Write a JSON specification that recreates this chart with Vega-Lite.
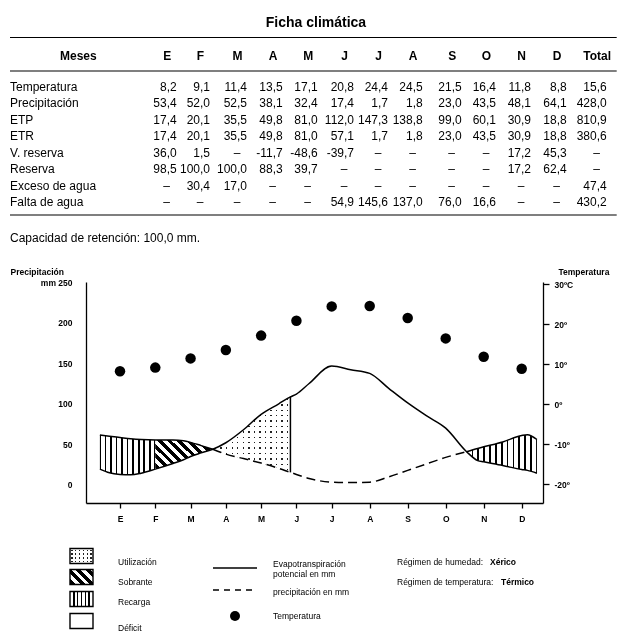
{
 "$schema": "https://vega.github.io/schema/vega-lite/v6.json",
 "width": 457,
 "height": 221,
 "autosize": {"type": "none"},
 "padding": {"left": 86, "top": 282, "right": 74, "bottom": 135},
 "background": "white",
 "config": {"view": {"stroke": null}, "font": "Liberation Sans", "text": {"font": "Liberation Sans", "color": "black"}},
 "datasets": {
  "curva": [
   {"m":0.43,"etp":19.5,"pre":61.5},{"m":0.7,"etp":15,"pre":60},{"m":1,"etp":13,"pre":58.5},{"m":1.3,"etp":12.5,"pre":57},
   {"m":1.6,"etp":14.5,"pre":56},{"m":2,"etp":19.5,"pre":55.5},{"m":2.5,"etp":26.5,"pre":55.5},{"m":2.8,"etp":31,"pre":54.5},
   {"m":3,"etp":35,"pre":52.5},{"m":3.3,"etp":39.5,"pre":48.5},{"m":3.63,"etp":44,"pre":44},{"m":4,"etp":52,"pre":38},
   {"m":4.5,"etp":68,"pre":32.5},{"m":5,"etp":87,"pre":27},{"m":5.5,"etp":100,"pre":20.5},{"m":5.83,"etp":108.5,"pre":15.5},
   {"m":6,"etp":112,"pre":13},{"m":6.36,"etp":125,"pre":8},{"m":7,"etp":146.5,"pre":3.5},{"m":7.5,"etp":142,"pre":3},
   {"m":8,"etp":137.5,"pre":3.5},{"m":8.5,"etp":119,"pre":10},{"m":9,"etp":101,"pre":18},{"m":9.5,"etp":85,"pre":26},
   {"m":10,"etp":70,"pre":34},{"m":10.55,"etp":41,"pre":41},{"m":10.84,"etp":30,"pre":45},{"m":11,"etp":28.5,"pre":47},
   {"m":11.5,"etp":24,"pre":53},{"m":12,"etp":19,"pre":61},{"m":12.15,"etp":18,"pre":62},{"m":12.4,"etp":14.5,"pre":56}
  ],
  "temp": [
   {"m":1,"t":8.2},{"m":2,"t":9.1},{"m":3,"t":11.4},{"m":4,"t":13.5},{"m":5,"t":17.1},{"m":6,"t":20.8},
   {"m":7,"t":24.4},{"m":8,"t":24.5},{"m":9,"t":21.5},{"m":10,"t":16.4},{"m":11,"t":11.8},{"m":12,"t":8.8}
  ],
  "tabla": [
   {"r":2,"f":"Meses","E":"E","F":"F","Mz":"M","Ab":"A","My":"M","Jn":"J","Jl":"J","Ag":"A","S":"S","O":"O","N":"N","D":"D","Total":"Total"},
   {"r":4,"f":"Temperatura","E":"8,2","F":"9,1","Mz":"11,4","Ab":"13,5","My":"17,1","Jn":"20,8","Jl":"24,4","Ag":"24,5","S":"21,5","O":"16,4","N":"11,8","D":"8,8","Total":"15,6"},
   {"r":5,"f":"Precipitación","E":"53,4","F":"52,0","Mz":"52,5","Ab":"38,1","My":"32,4","Jn":"17,4","Jl":"1,7","Ag":"1,8","S":"23,0","O":"43,5","N":"48,1","D":"64,1","Total":"428,0"},
   {"r":6,"f":"ETP","E":"17,4","F":"20,1","Mz":"35,5","Ab":"49,8","My":"81,0","Jn":"112,0","Jl":"147,3","Ag":"138,8","S":"99,0","O":"60,1","N":"30,9","D":"18,8","Total":"810,9"},
   {"r":7,"f":"ETR","E":"17,4","F":"20,1","Mz":"35,5","Ab":"49,8","My":"81,0","Jn":"57,1","Jl":"1,7","Ag":"1,8","S":"23,0","O":"43,5","N":"30,9","D":"18,8","Total":"380,6"},
   {"r":8,"f":"V. reserva","E":"36,0","F":"1,5","Mz":"–","Ab":"-11,7","My":"-48,6","Jn":"-39,7","Jl":"–","Ag":"–","S":"–","O":"–","N":"17,2","D":"45,3","Total":"–"},
   {"r":9,"f":"Reserva","E":"98,5","F":"100,0","Mz":"100,0","Ab":"88,3","My":"39,7","Jn":"–","Jl":"–","Ag":"–","S":"–","O":"–","N":"17,2","D":"62,4","Total":"–"},
   {"r":10,"f":"Exceso de agua","E":"–","F":"30,4","Mz":"17,0","Ab":"–","My":"–","Jn":"–","Jl":"–","Ag":"–","S":"–","O":"–","N":"–","D":"–","Total":"47,4"},
   {"r":11,"f":"Falta de agua","E":"–","F":"–","Mz":"–","Ab":"–","My":"–","Jn":"54,9","Jl":"145,6","Ag":"137,0","S":"76,0","O":"16,6","N":"–","D":"–","Total":"430,2"}
  ],
  "cols": [
   {"k":"f","c":0},{"k":"E","c":1},{"k":"F","c":2},{"k":"Mz","c":3},{"k":"Ab","c":4},{"k":"My","c":5},{"k":"Jn","c":6},
   {"k":"Jl","c":7},{"k":"Ag","c":8},{"k":"S","c":9},{"k":"O","c":10},{"k":"N","c":11},{"k":"D","c":12},{"k":"Total","c":13}
  ]
 },
 "resolve": {"scale": {"x": "independent", "y": "independent"}},
 "layer": [
  {
   "data": {"name": "curva"},
   "encoding": {
    "x": {"field": "m", "type": "quantitative",
     "scale": {"domain": [0.036, 1, 7, 12, 12.56], "range": [0, 34, 245.7, 435.7, 457], "nice": false, "zero": false},
     "axis": {"values": [1,2,3,4,5,6,7,8,9,10,11,12], "labelExpr": "['','E','F','M','A','M','J','J','A','S','O','N','D'][datum.value]", "grid": false, "tickSize": 5, "tickColor": "black", "tickWidth": 1.3, "domainColor": "black", "domainWidth": 1.3, "labelFontSize": 8.5, "labelFontWeight": "bold", "labelColor": "black", "labelFont": "Liberation Sans", "labelPadding": 6, "labelFlush": false, "title": null}}
   },
   "layer": [
    {"transform": [{"filter": "datum.m <= 2"}],
     "mark": {"type": "area", "interpolate": "monotone", "fill": {"gradient": "linear", "x1": 0, "y1": 0, "x2": 1, "y2": 0, "stops": [
      {"offset":0,"color":"#000"},{"offset":0.016,"color":"#000"},{"offset":0.016,"color":"#fff"},{"offset":0.084,"color":"#fff"},{"offset":0.084,"color":"#000"},{"offset":0.116,"color":"#000"},{"offset":0.116,"color":"#fff"},{"offset":0.184,"color":"#fff"},{"offset":0.184,"color":"#000"},{"offset":0.216,"color":"#000"},{"offset":0.216,"color":"#fff"},{"offset":0.284,"color":"#fff"},{"offset":0.284,"color":"#000"},{"offset":0.316,"color":"#000"},{"offset":0.316,"color":"#fff"},{"offset":0.384,"color":"#fff"},{"offset":0.384,"color":"#000"},{"offset":0.416,"color":"#000"},{"offset":0.416,"color":"#fff"},{"offset":0.484,"color":"#fff"},{"offset":0.484,"color":"#000"},{"offset":0.516,"color":"#000"},{"offset":0.516,"color":"#fff"},{"offset":0.584,"color":"#fff"},{"offset":0.584,"color":"#000"},{"offset":0.616,"color":"#000"},{"offset":0.616,"color":"#fff"},{"offset":0.684,"color":"#fff"},{"offset":0.684,"color":"#000"},{"offset":0.716,"color":"#000"},{"offset":0.716,"color":"#fff"},{"offset":0.784,"color":"#fff"},{"offset":0.784,"color":"#000"},{"offset":0.816,"color":"#000"},{"offset":0.816,"color":"#fff"},{"offset":0.884,"color":"#fff"},{"offset":0.884,"color":"#000"},{"offset":0.916,"color":"#000"},{"offset":0.916,"color":"#fff"},{"offset":0.984,"color":"#fff"},{"offset":0.984,"color":"#000"},{"offset":1,"color":"#000"}]}},
     "encoding": {
      "y": {"field": "pre", "type": "quantitative", "scale": {"domain": [-22.2, 250], "nice": false, "zero": false},
       "axis": {"orient": "left", "values": [0,50,100,150,200,250], "labelExpr": "datum.value == 250 ? 'mm   250' : datum.label", "grid": false, "ticks": false, "domainColor": "black", "domainWidth": 1.3, "labelFontSize": 8.5, "labelFontWeight": "bold", "labelColor": "black", "labelFont": "Liberation Sans", "labelPadding": 14, "title": "Precipitación", "titleAngle": 0, "titleAlign": "left", "titleBaseline": "middle", "titleX": -76, "titleY": -11, "titleFontSize": 8.5, "titleFontWeight": "bold", "titleColor": "black", "titleFont": "Liberation Sans"}},
      "y2": {"field": "etp"}
     }},
    {"transform": [{"filter": "datum.m >= 2 && datum.m <= 3.63"}],
     "mark": {"type": "area", "interpolate": "monotone", "fill": {"gradient": "linear", "x1": 0, "y1": 1, "x2": 1.1975, "y2": 0.382, "stops": [
      {"offset":0,"color":"#fff"},{"offset":0.02,"color":"#fff"},{"offset":0.02,"color":"#000"},{"offset":0.075,"color":"#000"},{"offset":0.075,"color":"#fff"},{"offset":0.131,"color":"#fff"},{"offset":0.131,"color":"#000"},{"offset":0.186,"color":"#000"},{"offset":0.186,"color":"#fff"},{"offset":0.242,"color":"#fff"},{"offset":0.242,"color":"#000"},{"offset":0.297,"color":"#000"},{"offset":0.297,"color":"#fff"},{"offset":0.353,"color":"#fff"},{"offset":0.353,"color":"#000"},{"offset":0.408,"color":"#000"},{"offset":0.408,"color":"#fff"},{"offset":0.464,"color":"#fff"},{"offset":0.464,"color":"#000"},{"offset":0.519,"color":"#000"},{"offset":0.519,"color":"#fff"},{"offset":0.575,"color":"#fff"},{"offset":0.575,"color":"#000"},{"offset":0.63,"color":"#000"},{"offset":0.63,"color":"#fff"},{"offset":0.686,"color":"#fff"},{"offset":0.686,"color":"#000"},{"offset":0.741,"color":"#000"},{"offset":0.741,"color":"#fff"},{"offset":0.797,"color":"#fff"},{"offset":0.797,"color":"#000"},{"offset":0.852,"color":"#000"},{"offset":0.852,"color":"#fff"},{"offset":0.908,"color":"#fff"},{"offset":0.908,"color":"#000"},{"offset":0.963,"color":"#000"},{"offset":0.963,"color":"#fff"},{"offset":1,"color":"#fff"}]}},
     "encoding": {"y": {"field": "pre", "type": "quantitative"}, "y2": {"field": "etp"}}},
    {"transform": [{"filter": "datum.m >= 3.63 && datum.m <= 5.83"}],
     "mark": {"type": "area", "interpolate": "monotone", "fill": {"gradient": "linear", "x1": 0, "y1": 0, "x2": 1, "y2": 0, "stops": [
      {"offset":0,"color":"#fff"},{"offset":0.027,"color":"#fff"},{"offset":0.027,"color":"#222"},{"offset":0.045,"color":"#222"},{"offset":0.045,"color":"#fff"},{"offset":0.098,"color":"#fff"},{"offset":0.098,"color":"#222"},{"offset":0.116,"color":"#222"},{"offset":0.116,"color":"#fff"},{"offset":0.17,"color":"#fff"},{"offset":0.17,"color":"#222"},{"offset":0.188,"color":"#222"},{"offset":0.188,"color":"#fff"},{"offset":0.241,"color":"#fff"},{"offset":0.241,"color":"#222"},{"offset":0.259,"color":"#222"},{"offset":0.259,"color":"#fff"},{"offset":0.312,"color":"#fff"},{"offset":0.312,"color":"#222"},{"offset":0.33,"color":"#222"},{"offset":0.33,"color":"#fff"},{"offset":0.384,"color":"#fff"},{"offset":0.384,"color":"#222"},{"offset":0.402,"color":"#222"},{"offset":0.402,"color":"#fff"},{"offset":0.455,"color":"#fff"},{"offset":0.455,"color":"#222"},{"offset":0.473,"color":"#222"},{"offset":0.473,"color":"#fff"},{"offset":0.527,"color":"#fff"},{"offset":0.527,"color":"#222"},{"offset":0.545,"color":"#222"},{"offset":0.545,"color":"#fff"},{"offset":0.598,"color":"#fff"},{"offset":0.598,"color":"#222"},{"offset":0.616,"color":"#222"},{"offset":0.616,"color":"#fff"},{"offset":0.67,"color":"#fff"},{"offset":0.67,"color":"#222"},{"offset":0.688,"color":"#222"},{"offset":0.688,"color":"#fff"},{"offset":0.741,"color":"#fff"},{"offset":0.741,"color":"#222"},{"offset":0.759,"color":"#222"},{"offset":0.759,"color":"#fff"},{"offset":0.812,"color":"#fff"},{"offset":0.812,"color":"#222"},{"offset":0.83,"color":"#222"},{"offset":0.83,"color":"#fff"},{"offset":0.884,"color":"#fff"},{"offset":0.884,"color":"#222"},{"offset":0.902,"color":"#222"},{"offset":0.902,"color":"#fff"},{"offset":0.955,"color":"#fff"},{"offset":0.955,"color":"#222"},{"offset":0.973,"color":"#222"},{"offset":0.973,"color":"#fff"},{"offset":1,"color":"#fff"}]}},
     "encoding": {"y": {"field": "pre", "type": "quantitative"}, "y2": {"field": "etp"}}},
    {"transform": [{"filter": "datum.m >= 3.63 && datum.m <= 5.83"}],
     "mark": {"type": "area", "interpolate": "monotone", "blend": "lighten", "fill": {"gradient": "linear", "x1": 0, "y1": 0, "x2": 0, "y2": 1, "stops": [
      {"offset":0,"color":"#fff"},{"offset":0.027,"color":"#fff"},{"offset":0.027,"color":"#222"},{"offset":0.045,"color":"#222"},{"offset":0.045,"color":"#fff"},{"offset":0.098,"color":"#fff"},{"offset":0.098,"color":"#222"},{"offset":0.116,"color":"#222"},{"offset":0.116,"color":"#fff"},{"offset":0.17,"color":"#fff"},{"offset":0.17,"color":"#222"},{"offset":0.188,"color":"#222"},{"offset":0.188,"color":"#fff"},{"offset":0.241,"color":"#fff"},{"offset":0.241,"color":"#222"},{"offset":0.259,"color":"#222"},{"offset":0.259,"color":"#fff"},{"offset":0.312,"color":"#fff"},{"offset":0.312,"color":"#222"},{"offset":0.33,"color":"#222"},{"offset":0.33,"color":"#fff"},{"offset":0.384,"color":"#fff"},{"offset":0.384,"color":"#222"},{"offset":0.402,"color":"#222"},{"offset":0.402,"color":"#fff"},{"offset":0.455,"color":"#fff"},{"offset":0.455,"color":"#222"},{"offset":0.473,"color":"#222"},{"offset":0.473,"color":"#fff"},{"offset":0.527,"color":"#fff"},{"offset":0.527,"color":"#222"},{"offset":0.545,"color":"#222"},{"offset":0.545,"color":"#fff"},{"offset":0.598,"color":"#fff"},{"offset":0.598,"color":"#222"},{"offset":0.616,"color":"#222"},{"offset":0.616,"color":"#fff"},{"offset":0.67,"color":"#fff"},{"offset":0.67,"color":"#222"},{"offset":0.688,"color":"#222"},{"offset":0.688,"color":"#fff"},{"offset":0.741,"color":"#fff"},{"offset":0.741,"color":"#222"},{"offset":0.759,"color":"#222"},{"offset":0.759,"color":"#fff"},{"offset":0.812,"color":"#fff"},{"offset":0.812,"color":"#222"},{"offset":0.83,"color":"#222"},{"offset":0.83,"color":"#fff"},{"offset":0.884,"color":"#fff"},{"offset":0.884,"color":"#222"},{"offset":0.902,"color":"#222"},{"offset":0.902,"color":"#fff"},{"offset":0.955,"color":"#fff"},{"offset":0.955,"color":"#222"},{"offset":0.973,"color":"#222"},{"offset":0.973,"color":"#fff"},{"offset":1,"color":"#fff"}]}},
     "encoding": {"y": {"field": "pre", "type": "quantitative"}, "y2": {"field": "etp"}}},
    {"transform": [{"filter": "datum.m >= 10.55"}],
     "mark": {"type": "area", "interpolate": "monotone", "fill": {"gradient": "linear", "x1": 0, "y1": 0, "x2": 1, "y2": 0, "stops": [
      {"offset":0,"color":"#000"},{"offset":0.012,"color":"#000"},{"offset":0.012,"color":"#fff"},{"offset":0.071,"color":"#fff"},{"offset":0.071,"color":"#000"},{"offset":0.095,"color":"#000"},{"offset":0.095,"color":"#fff"},{"offset":0.155,"color":"#fff"},{"offset":0.155,"color":"#000"},{"offset":0.179,"color":"#000"},{"offset":0.179,"color":"#fff"},{"offset":0.238,"color":"#fff"},{"offset":0.238,"color":"#000"},{"offset":0.262,"color":"#000"},{"offset":0.262,"color":"#fff"},{"offset":0.321,"color":"#fff"},{"offset":0.321,"color":"#000"},{"offset":0.345,"color":"#000"},{"offset":0.345,"color":"#fff"},{"offset":0.405,"color":"#fff"},{"offset":0.405,"color":"#000"},{"offset":0.429,"color":"#000"},{"offset":0.429,"color":"#fff"},{"offset":0.488,"color":"#fff"},{"offset":0.488,"color":"#000"},{"offset":0.512,"color":"#000"},{"offset":0.512,"color":"#fff"},{"offset":0.571,"color":"#fff"},{"offset":0.571,"color":"#000"},{"offset":0.595,"color":"#000"},{"offset":0.595,"color":"#fff"},{"offset":0.655,"color":"#fff"},{"offset":0.655,"color":"#000"},{"offset":0.679,"color":"#000"},{"offset":0.679,"color":"#fff"},{"offset":0.738,"color":"#fff"},{"offset":0.738,"color":"#000"},{"offset":0.762,"color":"#000"},{"offset":0.762,"color":"#fff"},{"offset":0.821,"color":"#fff"},{"offset":0.821,"color":"#000"},{"offset":0.845,"color":"#000"},{"offset":0.845,"color":"#fff"},{"offset":0.905,"color":"#fff"},{"offset":0.905,"color":"#000"},{"offset":0.929,"color":"#000"},{"offset":0.929,"color":"#fff"},{"offset":0.988,"color":"#fff"},{"offset":0.988,"color":"#000"},{"offset":1,"color":"#000"}]}},
     "encoding": {"y": {"field": "pre", "type": "quantitative"}, "y2": {"field": "etp"}}},
    {"mark": {"type": "line", "interpolate": "monotone", "color": "black", "strokeWidth": 1.5},
     "encoding": {"y": {"field": "etp", "type": "quantitative"}}},
    {"transform": [{"filter": "datum.m <= 3.63"}],
     "mark": {"type": "line", "interpolate": "monotone", "color": "black", "strokeWidth": 1.5},
     "encoding": {"y": {"field": "pre", "type": "quantitative"}}},
    {"transform": [{"filter": "datum.m >= 10.55"}],
     "mark": {"type": "line", "interpolate": "monotone", "color": "black", "strokeWidth": 1.5},
     "encoding": {"y": {"field": "pre", "type": "quantitative"}}},
    {"transform": [{"filter": "datum.m >= 3.63 && datum.m <= 10.55"}],
     "mark": {"type": "line", "interpolate": "monotone", "color": "black", "strokeWidth": 1.5, "strokeDash": [9, 5]},
     "encoding": {"y": {"field": "pre", "type": "quantitative"}}},
    {"transform": [{"filter": "datum.m == 5.83"}],
     "mark": {"type": "rule", "color": "black", "strokeWidth": 1.5},
     "encoding": {"y": {"field": "pre", "type": "quantitative"}, "y2": {"field": "etp"}}}
   ]
  },
  {
   "data": {"name": "temp"},
   "mark": {"type": "circle", "size": 110, "color": "black", "opacity": 1},
   "encoding": {
    "x": {"field": "m", "type": "quantitative", "scale": {"domain": [0.036, 1, 7, 12, 12.56], "range": [0, 34, 245.7, 435.7, 457], "nice": false, "zero": false}, "axis": null},
    "y": {"field": "t", "type": "quantitative", "scale": {"domain": [-24.75, 30.5], "nice": false, "zero": false},
     "axis": {"orient": "right", "values": [-20,-10,0,10,20,30], "labelExpr": "datum.value == 30 ? '30ºC' : datum.value + 'º'", "grid": false, "tickSize": 6, "tickColor": "black", "tickWidth": 1.3, "domainColor": "black", "domainWidth": 1.3, "labelFontSize": 8.5, "labelFontWeight": "bold", "labelColor": "black", "labelFont": "Liberation Sans", "labelPadding": 5, "title": "Temperatura", "titleAngle": 0, "titleAlign": "left", "titleBaseline": "middle", "titleX": 15, "titleY": -11, "titleFontSize": 8.5, "titleFontWeight": "bold", "titleColor": "black", "titleFont": "Liberation Sans"}}
   }
  },
  {
   "encoding": {
    "x": {"field": "c", "type": "quantitative", "scale": {"domain": [0,1,2,3,4,5,6,7,8,9,10,11,12,13], "range": [-76,90.7,124,161,196.7,231.7,268,302,336.7,375.7,410,445,480.7,520.7], "nice": false, "zero": false}, "axis": null},
    "y": {"field": "r", "type": "quantitative", "scale": {"domain": [0,1,2,3,4,11,12,13], "range": [-259,-244.5,-226,-211,-195,-80,-67,-44], "nice": false, "zero": false}, "axis": null}
   },
   "layer": [
    {"data": {"name": "tabla"},
     "transform": [{"fold": ["f","E","F","Mz","Ab","My","Jn","Jl","Ag","S","O","N","D","Total"], "as": ["k","v"]},
      {"lookup": "k", "from": {"data": {"name": "cols"}, "key": "k", "fields": ["c"]}}],
     "layer": [
      {"transform": [{"filter": "datum.c == 0 && datum.r != 2"}], "mark": {"type": "text", "align": "left", "fontSize": 12}, "encoding": {"text": {"field": "v"}}},
      {"transform": [{"filter": "datum.c > 0 && datum.r != 2 && datum.v != '–'"}], "mark": {"type": "text", "align": "right", "fontSize": 12}, "encoding": {"text": {"field": "v"}}},
      {"transform": [{"filter": "datum.c > 0 && datum.r != 2 && datum.v == '–'"}], "mark": {"type": "text", "align": "center", "dx": -10, "fontSize": 12}, "encoding": {"text": {"field": "v"}}},
      {"transform": [{"filter": "datum.c > 0 && datum.r == 2"}], "mark": {"type": "text", "align": "center", "dx": -9.5, "fontSize": 12, "fontWeight": "bold"}, "encoding": {"text": {"field": "v"}}},
      {"transform": [{"filter": "datum.c == 0 && datum.r == 2"}], "mark": {"type": "text", "align": "left", "dx": 50, "fontSize": 12, "fontWeight": "bold"}, "encoding": {"text": {"field": "v"}}}
     ]},
    {"data": {"values": [{"r": 1, "c": 0, "c2": 13.25}, {"r": 3, "c": 0, "c2": 13.25}, {"r": 12, "c": 0, "c2": 13.25}]},
     "mark": {"type": "rule", "color": "black", "strokeWidth": 1.2},
     "encoding": {"x2": {"field": "c2"}}},
    {"data": {"values": [{"r": 0, "c": 4.95, "v": "Ficha climática"}]},
     "mark": {"type": "text", "align": "center", "fontSize": 14, "fontWeight": "bold"},
     "encoding": {"text": {"field": "v"}}},
    {"data": {"values": [{"r": 13, "c": 0, "v": "Capacidad de retención: 100,0 mm."}]},
     "mark": {"type": "text", "align": "left", "fontSize": 12},
     "encoding": {"text": {"field": "v"}}}
   ]
  },
  {
   "encoding": {
    "x": {"field": "c", "type": "quantitative", "scale": {"domain": [0,1,2,3,4,5,6,7,8], "range": [-4.5,32,127,149,171,187,311,404,415], "nice": false, "zero": false}, "axis": null},
    "y": {"field": "r", "type": "quantitative", "scale": {"domain": [0,1,2,3,4,5,6,7,8,9,10,11,12,13], "range": [274,280,282,286,292,295,300,308,310,317,320,334,339,346], "nice": false, "zero": false}, "axis": null}
   },
   "layer": [
    {"data": {"values": [{"c": 0, "r": 9}]},
     "mark": {"type": "point", "shape": "M-1,-0.652L1,-0.652L1,0.652L-1,0.652Z", "size": 529, "filled": true, "opacity": 1, "strokeWidth": 0,
      "fill": {"gradient": "linear", "x1": 0, "y1": 0, "x2": 1, "y2": 0, "stops": [{"offset":0,"color":"#fff"},{"offset":0.137,"color":"#fff"},{"offset":0.137,"color":"#000"},{"offset":0.197,"color":"#000"},{"offset":0.197,"color":"#fff"},{"offset":0.303,"color":"#fff"},{"offset":0.303,"color":"#000"},{"offset":0.363,"color":"#000"},{"offset":0.363,"color":"#fff"},{"offset":0.47,"color":"#fff"},{"offset":0.47,"color":"#000"},{"offset":0.53,"color":"#000"},{"offset":0.53,"color":"#fff"},{"offset":0.637,"color":"#fff"},{"offset":0.637,"color":"#000"},{"offset":0.697,"color":"#000"},{"offset":0.697,"color":"#fff"},{"offset":0.803,"color":"#fff"},{"offset":0.803,"color":"#000"},{"offset":0.863,"color":"#000"},{"offset":0.863,"color":"#fff"},{"offset":1,"color":"#fff"}]}}},
    {"data": {"values": [{"c": 0, "r": 5}]},
     "mark": {"type": "point", "shape": "M-1,-0.652L1,-0.652L1,0.652L-1,0.652Z", "size": 529, "filled": true, "opacity": 1, "strokeWidth": 0,
      "fill": {"gradient": "linear", "x1": 0, "y1": 1, "x2": 1.159, "y2": 0.244, "stops": [{"offset":0,"color":"#fff"},{"offset":0.03,"color":"#fff"},{"offset":0.03,"color":"#000"},{"offset":0.16,"color":"#000"},{"offset":0.16,"color":"#fff"},{"offset":0.28,"color":"#fff"},{"offset":0.28,"color":"#000"},{"offset":0.41,"color":"#000"},{"offset":0.41,"color":"#fff"},{"offset":0.53,"color":"#fff"},{"offset":0.53,"color":"#000"},{"offset":0.66,"color":"#000"},{"offset":0.66,"color":"#fff"},{"offset":0.78,"color":"#fff"},{"offset":0.78,"color":"#000"},{"offset":0.91,"color":"#000"},{"offset":0.91,"color":"#fff"},{"offset":1,"color":"#fff"}]}}},
    {"data": {"values": [{"c": 0, "r": 0}]},
     "mark": {"type": "point", "shape": "M-1,-0.652L1,-0.652L1,0.652L-1,0.652Z", "size": 529, "filled": true, "opacity": 1, "strokeWidth": 0,
      "fill": {"gradient": "linear", "x1": 0, "y1": 0, "x2": 1, "y2": 0, "stops": [{"offset":0,"color":"#fff"},{"offset":0.053,"color":"#fff"},{"offset":0.053,"color":"#222"},{"offset":0.113,"color":"#222"},{"offset":0.113,"color":"#fff"},{"offset":0.22,"color":"#fff"},{"offset":0.22,"color":"#222"},{"offset":0.28,"color":"#222"},{"offset":0.28,"color":"#fff"},{"offset":0.387,"color":"#fff"},{"offset":0.387,"color":"#222"},{"offset":0.447,"color":"#222"},{"offset":0.447,"color":"#fff"},{"offset":0.553,"color":"#fff"},{"offset":0.553,"color":"#222"},{"offset":0.613,"color":"#222"},{"offset":0.613,"color":"#fff"},{"offset":0.72,"color":"#fff"},{"offset":0.72,"color":"#222"},{"offset":0.78,"color":"#222"},{"offset":0.78,"color":"#fff"},{"offset":0.887,"color":"#fff"},{"offset":0.887,"color":"#222"},{"offset":0.947,"color":"#222"},{"offset":0.947,"color":"#fff"},{"offset":1,"color":"#fff"}]}}},
    {"data": {"values": [{"c": 0, "r": 0}]},
     "mark": {"type": "point", "shape": "M-1,-0.652L1,-0.652L1,0.652L-1,0.652Z", "size": 529, "filled": true, "opacity": 1, "strokeWidth": 0, "blend": "lighten",
      "fill": {"gradient": "linear", "x1": 0, "y1": 0, "x2": 0, "y2": 1, "stops": [{"offset":0,"color":"#fff"},{"offset":0.08,"color":"#fff"},{"offset":0.08,"color":"#222"},{"offset":0.17,"color":"#222"},{"offset":0.17,"color":"#fff"},{"offset":0.33,"color":"#fff"},{"offset":0.33,"color":"#222"},{"offset":0.42,"color":"#222"},{"offset":0.42,"color":"#fff"},{"offset":0.58,"color":"#fff"},{"offset":0.58,"color":"#222"},{"offset":0.67,"color":"#222"},{"offset":0.67,"color":"#fff"},{"offset":0.83,"color":"#fff"},{"offset":0.83,"color":"#222"},{"offset":0.92,"color":"#222"},{"offset":0.92,"color":"#fff"},{"offset":1,"color":"#fff"}]}}},
    {"data": {"values": [{"c": 0, "r": 0}, {"c": 0, "r": 5}, {"c": 0, "r": 9}, {"c": 0, "r": 12}]},
     "mark": {"type": "point", "shape": "M-1,-0.652L1,-0.652L1,0.652L-1,0.652Z", "size": 529, "filled": false, "opacity": 1, "stroke": "black", "strokeWidth": 1.4}},
    {"data": {"values": [{"c": 2, "c2": 4, "r": 3}]},
     "mark": {"type": "rule", "color": "black", "strokeWidth": 1.5},
     "encoding": {"x2": {"field": "c2"}}},
    {"data": {"values": [{"c": 2, "c2": 4, "r": 7}]},
     "mark": {"type": "rule", "color": "black", "strokeWidth": 1.5, "strokeDash": [6, 5]},
     "encoding": {"x2": {"field": "c2"}}},
    {"data": {"values": [{"c": 3, "r": 11}]},
     "mark": {"type": "circle", "size": 100, "color": "black", "opacity": 1}},
    {"data": {"values": [
      {"t": "Utilización", "r": 1, "c": 1}, {"t": "Sobrante", "r": 6, "c": 1}, {"t": "Recarga", "r": 10, "c": 1}, {"t": "Déficit", "r": 13, "c": 1},
      {"t": "Evapotranspiración", "r": 2, "c": 5}, {"t": "potencial en mm", "r": 4, "c": 5}, {"t": "precipitación en mm", "r": 8, "c": 5}, {"t": "Temperatura", "r": 11, "c": 5},
      {"t": "Régimen de humedad:", "r": 1, "c": 6}, {"t": "Régimen de temperatura:", "r": 6, "c": 6}]},
     "mark": {"type": "text", "align": "left", "fontSize": 8.5},
     "encoding": {"text": {"field": "t"}}},
    {"data": {"values": [{"t": "Xérico", "r": 1, "c": 7}, {"t": "Térmico", "r": 6, "c": 8}]},
     "mark": {"type": "text", "align": "left", "fontSize": 8.5, "fontWeight": "bold"},
     "encoding": {"text": {"field": "t"}}}
   ]
  }
 ]
}
